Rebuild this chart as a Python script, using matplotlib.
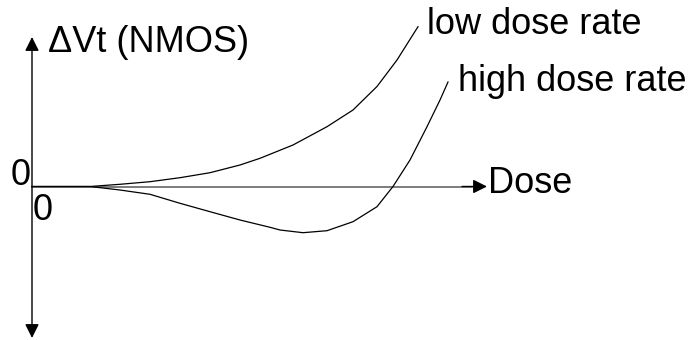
import numpy as np
import matplotlib
matplotlib.use("Agg")
import matplotlib.pyplot as plt

plt.rcParams['font.family'] = ['Liberation Sans', 'DejaVu Sans']

# schematic curves, dose (arb.) vs delta Vt (arb.)
low_dose = [0.0, 0.58, 0.88, 1.18, 1.48, 1.78, 2.08, 2.28, 2.61, 2.95,
            3.21, 3.45, 3.65, 3.86]
low_dvt = [0.0, 0.0, 0.022, 0.048, 0.088, 0.138, 0.215, 0.282, 0.415, 0.598,
           0.765, 1.0, 1.265, 1.598]

high_dose = [0.0, 0.58, 0.88, 1.18, 1.48, 1.78, 2.08, 2.38, 2.48, 2.71, 2.95,
             3.21, 3.45, 3.61, 3.78, 3.95, 4.08, 4.16]
high_dvt = [0.0, 0.0, -0.035, -0.078, -0.168, -0.252, -0.335, -0.408, -0.435,
            -0.462, -0.442, -0.352, -0.202, 0.0, 0.265, 0.598, 0.865, 1.045]

fig = plt.figure(figsize=(6.92, 3.4), dpi=100)
ax = fig.add_axes([0, 0, 1, 1])
ax.set_xlim(-0.32, 6.60)
ax.set_ylim(-1.535, 1.865)
ax.axis("off")

# axes arrows
ax.annotate("", xy=(0, 1.495), xytext=(0, -1.515),
            arrowprops=dict(arrowstyle="<|-|>,head_length=0.6,head_width=0.3",
                            color="black", lw=1.0,
                            mutation_scale=14, shrinkA=0, shrinkB=0))
ax.plot([0, 4.4], [0, 0], color="#666666", lw=1.2)
ax.annotate("", xy=(4.55, 0), xytext=(4.3, 0),
            arrowprops=dict(arrowstyle="-|>,head_length=0.6,head_width=0.3",
                            color="black", lw=1.0,
                            mutation_scale=14, shrinkA=0, shrinkB=0))

ax.plot(low_dose, low_dvt, color="black", lw=0.9)
ax.plot(high_dose, high_dvt, color="black", lw=0.9)

fs = 26
ax.text(0.16, 1.345, "\u0394Vt (NMOS)", fontsize=fs, va="baseline", ha="left")
ax.text(3.95, 1.525, "low dose rate", fontsize=fs, va="baseline", ha="left")
ax.text(4.26, 0.955, "high dose rate", fontsize=fs, va="baseline", ha="left")
ax.text(4.56, -0.065, "Dose", fontsize=fs, va="baseline", ha="left")
ax.text(-0.01, 0.015, "0", fontsize=fs, va="baseline", ha="right")
ax.text(0.01, -0.335, "0", fontsize=fs, va="baseline", ha="left")

fig.savefig("out.png", dpi=100)
